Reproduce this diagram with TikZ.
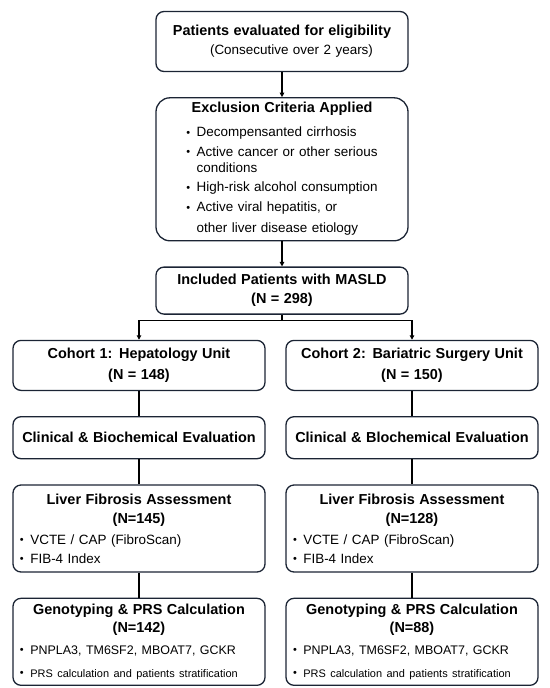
\documentclass[tikz,border=0pt]{standalone}
\usepackage{fontspec}
\setmainfont{Liberation Sans}
\usetikzlibrary{shapes, arrows.meta, positioning}
\definecolor{boxline}{HTML}{1B2434}

\newcommand{\ttl}[1]{{\fontsize{14.5}{19}\selectfont\bfseries #1}}
\newcommand{\itm}{{\fontsize{11}{11}\selectfont\raisebox{0.6bp}{\textbullet}}}
\newcommand{\lbul}[1]{\makebox[246bp][l]{\hspace*{4bp}\itm\hspace{6.5bp}#1}}

\begin{document}
\begin{tikzpicture}[
    x=1bp, y=1bp,
    node distance=25bp and 25bp,
    box/.style={rectangle, draw=boxline, line width=1.3bp, rounded corners=8bp,
      minimum width=252bp, text width=246bp, inner xsep=3bp, inner ysep=2bp,
      align=center, font=\fontsize{13.5}{16}\selectfont},
    arrow/.style={line width=1.3bp, -{Triangle[length=4.5bp,width=4.5bp]}},
    link/.style={line width=1.3bp}
]
\useasboundingbox (0,0) rectangle (550,-688);

% Nodes
\node[box, minimum height=60bp] (eval) at (282,-41.5) {%
  \ttl{Patients evaluated for eligibility}\\[3bp]
  \hspace*{19bp}(Consecutive over 2 years)};

\node[box, below=of eval, minimum height=143bp, rounded corners=14bp] (excl) {%
  \ttl{Exclusion Criteria Applied}\\[9bp]
  \fontsize{13.5}{16.5}\selectfont
  \begin{tabular}[t]{@{}l@{\hspace{6.5bp}}l@{}}
    \itm & Decompensanted cirrhosis\\[3bp]
    \itm & Active cancer or other serious\\
         & conditions\\[2.5bp]
    \itm & High-risk alcohol consumption\\[3.5bp]
    \itm & Active viral hepatitis, or\\[4bp]
         & other liver disease etiology
  \end{tabular}};

\node[box, below=of excl, minimum height=47bp] (incl) {%
  \ttl{Included Patients with MASLD}\\[3bp]
  \ttl{(N = 298)}};

\node[box, below=of incl, xshift=-143bp, minimum height=50bp] (coh1) {%
  \ttl{Cohort 1: Hepatology Unit}\\[5bp]
  \ttl{(N = 148)}};
\node[box, below=of incl, xshift=130bp, minimum height=50bp] (coh2) {%
  \ttl{Cohort 2: Bariatric Surgery Unit}\\[5bp]
  \ttl{(N = 150)}};

\node[box, below=of coh1, minimum height=42bp] (clin1) {%
  \ttl{Clinical \& Biochemical Evaluation}};
\node[box, below=of coh2, minimum height=42bp] (clin2) {%
  \ttl{Clinical \& Blochemical Evaluation}};

\node[box, below=of clin1, minimum height=87bp] (fib1) {%
  \ttl{Liver Fibrosis Assessment}\\[3bp]
  \ttl{(N=145)}\\[5bp]
  \lbul{VCTE / CAP (FibroScan)}\\[3bp]
  \lbul{FIB-4 Index}};
\node[box, below=of clin2, minimum height=87bp] (fib2) {%
  \ttl{Liver Fibrosis Assessment}\\[3bp]
  \ttl{(N=128)}\\[5bp]
  \lbul{VCTE / CAP (FibroScan)}\\[3bp]
  \lbul{FIB-4 Index}};

\node[box, below=of fib1, minimum height=87bp] (gen1) {%
  \ttl{Genotyping \& PRS Calculation}\\[2bp]
  \ttl{(N=142)}\\[6bp]
  \lbul{\fontsize{12.5}{16}\selectfont PNPLA3, TM6SF2, MBOAT7, GCKR}\\[7bp]
  \lbul{\fontsize{11}{16}\selectfont PRS calculation and patients stratification}};
\node[box, below=of fib2, minimum height=87bp] (gen2) {%
  \ttl{Genotyping \& PRS Calculation}\\[2bp]
  \ttl{(N=88)}\\[6bp]
  \lbul{\fontsize{12.5}{16}\selectfont PNPLA3, TM6SF2, MBOAT7, GCKR}\\[7bp]
  \lbul{\fontsize{11}{16}\selectfont PRS calculation and patients stratification}};

% Arrows
\draw[arrow] (eval) -- (excl);
\draw[arrow] (excl) -- (incl);
\draw[link] (incl.south) -- ++(0,-6) coordinate (split);
\draw[arrow] (split) -| (coh1.north);
\draw[arrow] (split) -| (coh2.north);
\draw[link] (coh1) -- (clin1);
\draw[link] (coh2) -- (clin2);
\draw[link] (clin1) -- (fib1);
\draw[link] (clin2) -- (fib2);
\draw[link] (fib1) -- (gen1);
\draw[link] (fib2) -- (gen2);

\end{tikzpicture}
\end{document}
